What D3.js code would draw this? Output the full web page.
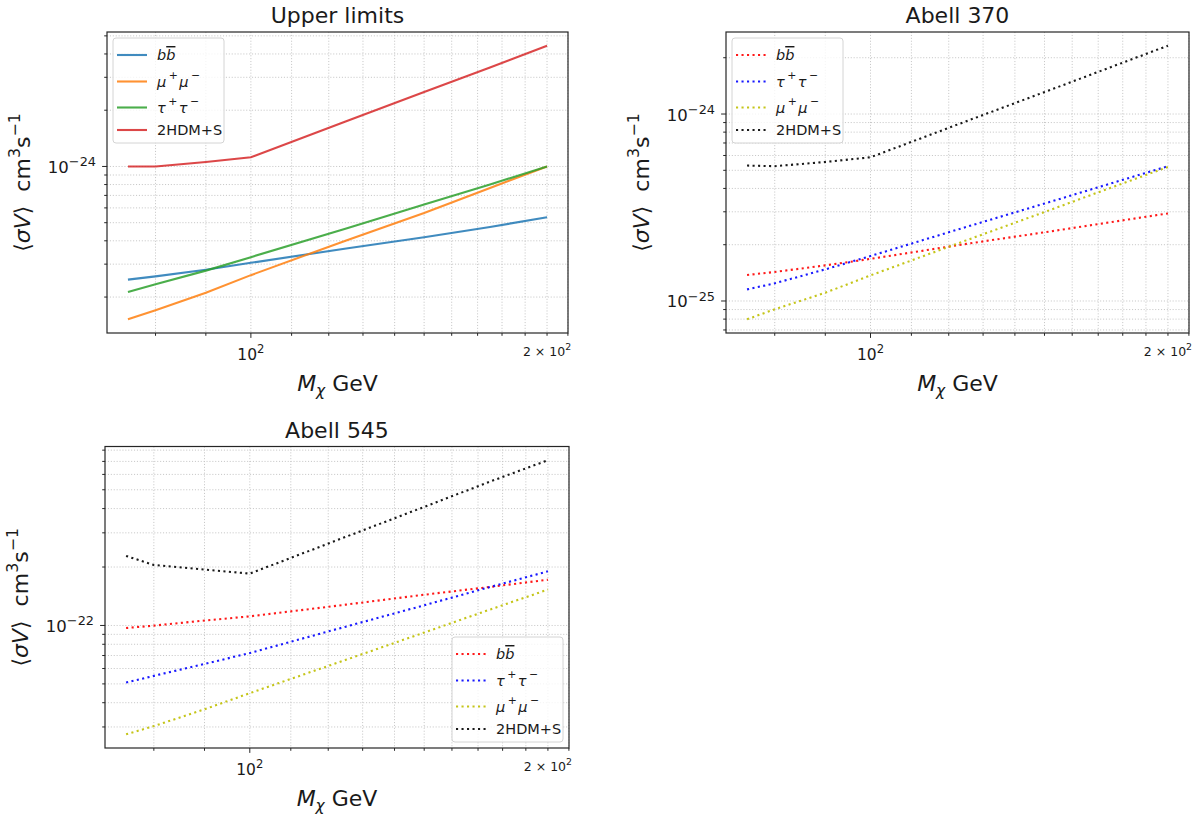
<!DOCTYPE html>
<html><head><meta charset="utf-8">
<script src="https://cdn.jsdelivr.net/npm/d3@7"></script>
<style>
body{margin:0;background:#fff}
svg{display:block}
text{font-family:"DejaVu Sans",sans-serif;fill:#1a1a1a}
</style>
</head><body>
<svg id="chart" width="1203" height="817"></svg>
<script>
// ---------------- data ----------------
const masses = [75, 80, 90, 100, 125, 150, 175, 200];

// Upper limits
const upperBB     = [2.48e-25, 2.58e-25, 2.80e-25, 3.05e-25, 3.64e-25, 4.18e-25, 4.74e-25, 5.35e-25];
const upperMuMu   = [1.52e-25, 1.70e-25, 2.11e-25, 2.62e-25, 4.02e-25, 5.64e-25, 7.67e-25, 1.00e-24];
const upperTauTau = [2.13e-25, 2.34e-25, 2.77e-25, 3.27e-25, 4.66e-25, 6.25e-25, 8.00e-25, 1.00e-24];
const upper2HDM   = [1.00e-24, 1.00e-24, 1.057e-24, 1.12e-24, 1.745e-24, 2.50e-24, 3.39e-24, 4.43e-24];

// Abell 370
const a370BB     = [1.377e-25, 1.43e-25, 1.55e-25, 1.68e-25, 2.02e-25, 2.33e-25, 2.64e-25, 2.94e-25];
const a370TauTau = [1.154e-25, 1.243e-25, 1.476e-25, 1.74e-25, 2.49e-25, 3.32e-25, 4.25e-25, 5.26e-25];
const a370MuMu   = [7.98e-26, 9.03e-26, 1.107e-25, 1.37e-25, 2.11e-25, 2.99e-25, 4.03e-25, 5.21e-25];
const a3702HDM   = [5.30e-25, 5.26e-25, 5.54e-25, 5.87e-25, 9.15e-25, 1.31e-24, 1.78e-24, 2.32e-24];

// Abell 545
const a545BB     = [9.7e-23, 9.98e-23, 1.06e-22, 1.114e-22, 1.28e-22, 1.44e-22, 1.58e-22, 1.72e-22];
const a545TauTau = [5.08e-23, 5.50e-23, 6.33e-23, 7.21e-23, 9.86e-23, 1.27e-22, 1.58e-22, 1.90e-22];
const a545MuMu   = [2.75e-23, 3.03e-23, 3.70e-23, 4.48e-23, 6.65e-23, 9.19e-23, 1.21e-22, 1.53e-22];
const a5452HDM   = [2.28e-22, 2.05e-22, 1.94e-22, 1.85e-22, 2.86e-22, 4.08e-22, 5.52e-22, 7.10e-22];

// tick labels
const xLabelTicks = [100, 200];
const xTickLabels = [["10", "2"], ["2 × 10", "2"]];
const titles = ["Upper limits", "Abell 370", "Abell 545"];

// ---------------- layout ----------------
const panels = [
  {title: titles[0], left: 107, right: 568, top: 32, bottom: 333, legend: "tl",
   series: [
     {key: "bb", values: upperBB, color: "#1f77b4", dotted: false},
     {key: "mumu", values: upperMuMu, color: "#ff7f0e", dotted: false},
     {key: "tautau", values: upperTauTau, color: "#2ca02c", dotted: false},
     {key: "2hdm", values: upper2HDM, color: "#d62728", dotted: false}]},
  {title: titles[1], left: 726, right: 1189, top: 32, bottom: 333, legend: "tl",
   series: [
     {key: "bb", values: a370BB, color: "#ff0000", dotted: true},
     {key: "tautau", values: a370TauTau, color: "#0000ff", dotted: true},
     {key: "mumu", values: a370MuMu, color: "#bfbf00", dotted: true},
     {key: "2hdm", values: a3702HDM, color: "#000000", dotted: true}]},
  {title: titles[2], left: 105, right: 569, top: 446.5, bottom: 748, legend: "br",
   series: [
     {key: "bb", values: a545BB, color: "#ff0000", dotted: true},
     {key: "tautau", values: a545TauTau, color: "#0000ff", dotted: true},
     {key: "mumu", values: a545MuMu, color: "#bfbf00", dotted: true},
     {key: "2hdm", values: a5452HDM, color: "#000000", dotted: true}]}
];

const svg = d3.select("#chart");

function logDomain(vals, pad = 0.05) {
  const lo = Math.log10(d3.min(vals)), hi = Math.log10(d3.max(vals));
  const r = hi - lo;
  return [Math.pow(10, lo - pad * r), Math.pow(10, hi + pad * r)];
}

// rich text: parts = [{t, it, sup, sub, over, dx, scale, raise}]
function rich(textSel, parts, size) {
  let shift = 0;
  parts.forEach(p => {
    let target = 0, fs = size;
    if (p.sup) { target = -(p.raise || 0.42) * size; fs = size * (p.scale || 0.7); }
    if (p.sub) { target = 0.22 * size; fs = size * 0.7; }
    const ts = textSel.append("tspan").text(p.t)
      .attr("font-size", fs)
      .attr("dy", (target - shift).toFixed(2));
    if (p.dx) ts.attr("dx", p.dx);
    if (p.it) ts.attr("font-style", "italic");
    if (p.over) ts.style("text-decoration", "overline");
    shift = target;
  });
}

const legendParts = {
  bb: [{t: "b", it: true}, {t: "b", it: true, over: true}],
  mumu: [{t: "μ", it: true}, {t: "+", sup: true, dx: 2.5, raise: 0.5, scale: 0.75}, {t: "μ", it: true, dx: 1.5}, {t: "−", sup: true, dx: 2.5, raise: 0.5, scale: 0.75}],
  tautau: [{t: "τ", it: true}, {t: "+", sup: true, dx: 2.5, raise: 0.5, scale: 0.75}, {t: "τ", it: true, dx: 1.5}, {t: "−", sup: true, dx: 2.5, raise: 0.5, scale: 0.75}],
  "2hdm": [{t: "2HDM+S"}]
};

const gridColor = "#c8c8c8";

panels.forEach(p => {
  const g = svg.append("g");
  const x = d3.scaleLog().domain(logDomain(masses)).range([p.left, p.right]);
  const y = d3.scaleLog().domain(logDomain(p.series.flatMap(s => s.values))).range([p.bottom, p.top]);
  const xt = x.ticks();
  const yt = y.ticks();
  const isMajor = d => Math.abs(Math.log10(d) - Math.round(Math.log10(d))) < 1e-6;

  // grid
  g.append("g").selectAll("line").data(xt).join("line")
    .attr("x1", d => x(d)).attr("x2", d => x(d))
    .attr("y1", p.top).attr("y2", p.bottom)
    .attr("stroke", gridColor).attr("stroke-width", 1).attr("stroke-dasharray", "1.1,1.8");
  g.append("g").selectAll("line").data(yt).join("line")
    .attr("y1", d => y(d)).attr("y2", d => y(d))
    .attr("x1", p.left).attr("x2", p.right)
    .attr("stroke", gridColor).attr("stroke-width", 1).attr("stroke-dasharray", "1.1,1.8");

  // lines
  const line = d3.line().x(d => x(d[0])).y(d => y(d[1]));
  p.series.forEach(s => {
    g.append("path")
      .datum(masses.map((m, i) => [m, s.values[i]]))
      .attr("d", line)
      .attr("fill", "none")
      .attr("stroke", s.color)
      .attr("stroke-width", 2.1)
      .attr("stroke-opacity", s.dotted ? 0.9 : 0.85)
      .attr("stroke-dasharray", s.dotted ? "2.1,3.4" : null);
  });

  // spines
  g.append("rect").attr("x", p.left).attr("y", p.top)
    .attr("width", p.right - p.left).attr("height", p.bottom - p.top)
    .attr("fill", "none").attr("stroke", "#262626").attr("stroke-width", 1.2);

  // ticks
  g.append("g").selectAll("line").data(xt).join("line")
    .attr("x1", d => x(d)).attr("x2", d => x(d))
    .attr("y1", p.bottom).attr("y2", d => p.bottom + (d === xLabelTicks[0] ? 4.9 : 2.8))
    .attr("stroke", "#262626").attr("stroke-width", 1);
  g.append("g").selectAll("line").data(yt).join("line")
    .attr("y1", d => y(d)).attr("y2", d => y(d))
    .attr("x1", p.left).attr("x2", d => p.left - (isMajor(d) ? 4.9 : 2.8))
    .attr("stroke", "#262626").attr("stroke-width", 1);

  // x tick labels
  xLabelTicks.forEach((v, i) => {
    const lab = xTickLabels[i];
    const major = i === 0;
    const t = g.append("text").attr("x", x(v)).attr("y", p.bottom + (major ? 27 : 23))
      .attr("text-anchor", "middle");
    const fs = major ? 15.5 : 12.5;
    rich(t, [{t: lab[0]}, {t: lab[1], sup: true, raise: 0.45, scale: 0.75}], fs);
  });

  // y tick labels (decades)
  yt.filter(isMajor).forEach(v => {
    const e = Math.round(Math.log10(v));
    const t = g.append("text").attr("x", p.left - 11).attr("y", y(v) + 6.5)
      .attr("text-anchor", "end");
    rich(t, [{t: "10"}, {t: (e < 0 ? "−" : "") + Math.abs(e), sup: true, raise: 0.42, scale: 0.78}], 16.5);
  });

  // title
  g.append("text").attr("x", (p.left + p.right) / 2).attr("y", p.top - 9)
    .attr("text-anchor", "middle").attr("font-size", 22).text(p.title);

  // x label
  const xl = g.append("text").attr("x", (p.left + p.right) / 2).attr("y", p.bottom + 58)
    .attr("text-anchor", "middle");
  rich(xl, [{t: "M", it: true}, {t: "χ", it: true, sub: true}, {t: "\u00a0GeV"}], 22);

  // y label
  const yl = g.append("text")
    .attr("transform", `translate(${p.left - 77},${(p.top + p.bottom) / 2}) rotate(-90)`)
    .attr("text-anchor", "middle");
  rich(yl, [{t: "⟨"}, {t: "σV", it: true}, {t: "⟩\u00a0\u00a0cm"}, {t: "3", sup: true, raise: 0.45, scale: 0.72}, {t: "s"}, {t: "−1", sup: true, raise: 0.45, scale: 0.72}], 22);

  // legend
  const lw = 111, lh = 105;
  const lx = p.legend === "tl" ? p.left + 6 : p.right - 6 - lw;
  const ly = p.legend === "tl" ? p.top + 6 : p.bottom - 6 - lh;
  const lg = g.append("g").attr("transform", `translate(${lx},${ly})`);
  lg.append("rect").attr("width", lw).attr("height", lh).attr("rx", 3)
    .attr("fill", "#fff").attr("fill-opacity", 0.8)
    .attr("stroke", "#d4d4d4").attr("stroke-width", 1);
  const rows = [17, 43.5, 69.5, 92];
  p.series.forEach((s, i) => {
    lg.append("line").attr("x1", 4).attr("x2", 34).attr("y1", rows[i]).attr("y2", rows[i])
      .attr("stroke", s.color).attr("stroke-width", 2.1)
      .attr("stroke-opacity", s.dotted ? 0.9 : 0.85)
      .attr("stroke-dasharray", s.dotted ? "2.1,3.4" : null);
    const t = lg.append("text").attr("x", 44).attr("y", rows[i] + 5);
    rich(t, legendParts[s.key], 14.5);
  });
});
</script>
</body></html>
